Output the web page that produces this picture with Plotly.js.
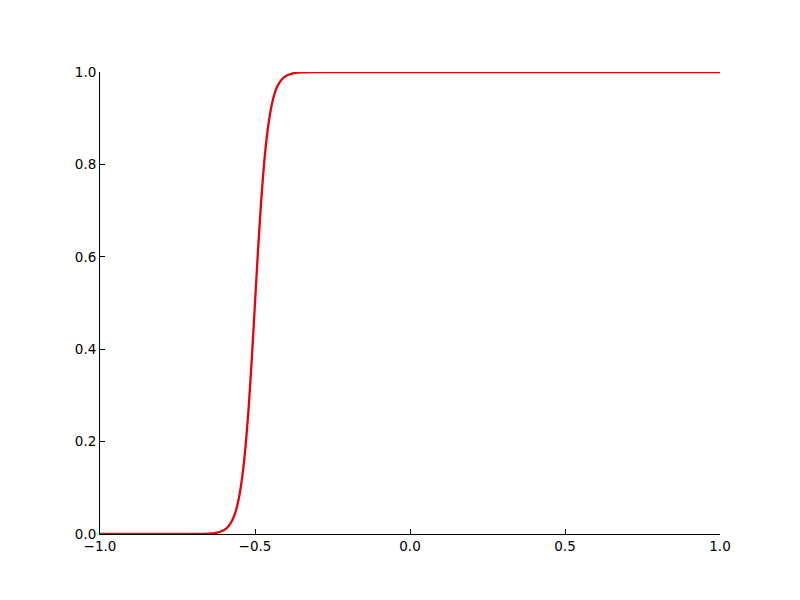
<!DOCTYPE html>
<html>
<head>
<meta charset="utf-8">
<script src="https://cdn.plot.ly/plotly-3.0.1.min.js"></script>
<style>body{margin:0;padding:0;background:#fff;}#chart{width:800px;height:600px;}</style>
</head>
<body>
<div id="chart"></div>
<script>
// Values
const xValues = [-1.0, -0.80, -0.70, -0.65, -0.63, -0.62, -0.61, -0.60, -0.59, -0.58, -0.57, -0.56, -0.55, -0.54, -0.53,
  -0.52, -0.51, -0.50, -0.49, -0.48, -0.47, -0.46, -0.45, -0.44, -0.43, -0.42, -0.41, -0.40, -0.39, -0.38,
  -0.37, -0.35, -0.32, -0.30, -0.20, 0.0, 0.5, 1.0];
const yValues = [0.0, 0.0, 0.0001, 0.0008, 0.002, 0.0033, 0.0053, 0.0085, 0.0135, 0.0217, 0.0345, 0.054, 0.085, 0.130, 0.193,
  0.278, 0.383, 0.50, 0.617, 0.722, 0.807, 0.870, 0.915, 0.946, 0.966, 0.978, 0.9865, 0.9915, 0.9947, 0.9967,
  0.998, 0.9992, 0.9998, 0.9999, 1.0, 1.0, 1.0, 1.0];
const xTicks = [-1.0, -0.5, 0.0, 0.5, 1.0];
const yTicks = [0.0, 0.2, 0.4, 0.6, 0.8, 1.0];

const trace = {
  x: xValues, y: yValues, type: 'scatter', mode: 'lines',
  line: {color: '#e8000b', width: 2.3, shape: 'spline', smoothing: 0.5},
  hoverinfo: 'skip'
};

const axisCommon = {
  showgrid: false, zeroline: false, showline: true, linecolor: '#000', linewidth: 1,
  mirror: false, ticks: 'inside', ticklen: 5, tickwidth: 1, tickcolor: '#000',
  tickfont: {family: 'DejaVu Sans', size: 13.5, color: '#000'}, tickformat: '.1f'
};

const layout = {
  width: 800, height: 600,
  margin: {l: 100, r: 80, t: 72, b: 66},
  paper_bgcolor: '#fff', plot_bgcolor: '#fff',
  showlegend: false,
  xaxis: Object.assign({}, axisCommon, {range: [-1, 1], tickvals: xTicks}),
  yaxis: Object.assign({}, axisCommon, {range: [0, 1], tickvals: yTicks})
};

Plotly.newPlot('chart', [trace], layout, {displayModeBar: false, staticPlot: true});
</script>
</body>
</html>
